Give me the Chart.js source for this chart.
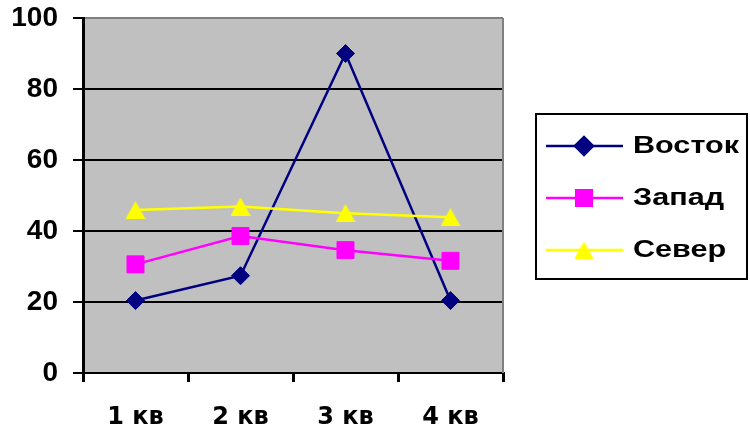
<!DOCTYPE html>
<html>
<head>
<meta charset="utf-8">
<script src="https://cdn.jsdelivr.net/npm/chart.js@4"></script>
<style>
  html, body { margin: 0; padding: 0; background: #fff; overflow: hidden; }
  #wrap { width: 750px; height: 436px; }
</style>
</head>
<body>
<div id="wrap"><canvas id="c" width="750" height="436"></canvas></div>
<script>
// Quarterly figures by region
const quarters = ['1 кв', '2 кв', '3 кв', '4 кв'];
const seriesNames = ['Восток', 'Запад', 'Север'];
const vostok = [20.4, 27.4, 90, 20.4];
const zapad = [30.6, 38.6, 34.6, 31.6];
const sever = [45.9, 46.9, 45, 43.9];
const yTicks = [0, 20, 40, 60, 80, 100];

// Upright triangle marker centred on its bounding box
function triangleMarker(w, h, fill) {
  const c = document.createElement('canvas');
  c.width = w; c.height = h;
  const g = c.getContext('2d');
  g.fillStyle = fill;
  g.beginPath();
  g.moveTo(w / 2, 0);
  g.lineTo(w, h);
  g.lineTo(0, h);
  g.closePath();
  g.fill();
  return c;
}

const triPlot = triangleMarker(20, 18, '#FFFF00');
const triLegend = triangleMarker(19, 17, '#FFFF00');

// Grey plot area with a grey frame on the right
const plotBackground = {
  id: 'plotBackground',
  beforeDraw(chart) {
    const { ctx, chartArea: a } = chart;
    ctx.save();
    ctx.fillStyle = '#C0C0C0';
    ctx.fillRect(a.left, a.top, a.right - a.left, a.bottom - a.top);
    ctx.restore();
  },
  beforeDatasetsDraw(chart) {
    const { ctx, chartArea: a } = chart;
    ctx.save();
    ctx.strokeStyle = '#808080';
    ctx.lineWidth = 2;
    ctx.beginPath();
    ctx.moveTo(a.right, a.top);
    ctx.lineTo(a.right, a.bottom);
    ctx.stroke();
    ctx.restore();
  }
};

// Framed legend on the right: long line with the marker in its middle
const sideLegend = {
  id: 'sideLegend',
  afterDraw(chart) {
    const ctx = chart.ctx;
    const box = { x: 536, y: 114, w: 211, h: 165 };
    ctx.save();
    ctx.fillStyle = '#fff';
    ctx.fillRect(box.x, box.y, box.w, box.h);
    ctx.strokeStyle = '#000';
    ctx.lineWidth = 2;
    ctx.strokeRect(box.x, box.y, box.w, box.h);

    chart.data.datasets.forEach((ds, i) => {
      const y = 146 + i * 52;
      ctx.strokeStyle = ds.borderColor;
      ctx.lineWidth = 2.5;
      ctx.beginPath();
      ctx.moveTo(546, y);
      ctx.lineTo(623, y);
      ctx.stroke();

      ctx.fillStyle = ds.pointBackgroundColor;
      ctx.strokeStyle = ds.pointBorderColor;
      const style = ds.legendStyle;
      Chart.helpers.drawPoint(ctx, {
        pointStyle: style.pointStyle,
        radius: style.radius,
        rotation: 0,
        borderWidth: 1
      }, 584, y);

      ctx.save();
      ctx.translate(633, y + 1);
      ctx.scale(1.33, 1);
      ctx.fillStyle = '#000';
      ctx.font = 'bold 23px "Liberation Sans", Arial, sans-serif';
      ctx.textBaseline = 'middle';
      ctx.textAlign = 'left';
      ctx.fillText(ds.label, 0, 0);
      ctx.restore();
    });
    ctx.restore();
  }
};

new Chart(document.getElementById('c'), {
  type: 'line',
  data: {
    labels: quarters,
    datasets: [
      {
        label: seriesNames[0],
        data: vostok,
        borderColor: '#000080',
        backgroundColor: '#000080',
        pointBackgroundColor: '#000080',
        pointBorderColor: '#000080',
        borderWidth: 2.5,
        pointStyle: 'rectRot',
        pointRadius: 9,
        pointBorderWidth: 1,
        order: 3,
        legendStyle: { pointStyle: 'rectRot', radius: 9 }
      },
      {
        label: seriesNames[1],
        data: zapad,
        borderColor: '#FF00FF',
        backgroundColor: '#FF00FF',
        pointBackgroundColor: '#FF00FF',
        pointBorderColor: '#FF00FF',
        borderWidth: 2.5,
        pointStyle: 'rect',
        pointRadius: 12,
        pointBorderWidth: 1,
        order: 2,
        legendStyle: { pointStyle: 'rect', radius: 11 }
      },
      {
        label: seriesNames[2],
        data: sever,
        borderColor: '#FFFF00',
        backgroundColor: '#FFFF00',
        pointBackgroundColor: '#FFFF00',
        pointBorderColor: '#FFFF00',
        borderWidth: 2.5,
        pointStyle: triPlot,
        pointRadius: 10,
        pointBorderWidth: 0,
        order: 1,
        legendStyle: { pointStyle: triLegend, radius: 9 }
      }
    ]
  },
  options: {
    responsive: false,
    animation: false,
    events: [],
    layout: { padding: { top: 18, right: 247, bottom: 0, left: 0 } },
    plugins: {
      legend: { display: false },
      tooltip: { enabled: false },
      title: { display: false }
    },
    elements: { line: { tension: 0 } },
    scales: {
      x: {
        type: 'category',
        offset: true,
        grid: {
          offset: true,
          drawOnChartArea: false,
          tickLength: 9,
          color: '#000',
          lineWidth: 3
        },
        border: { color: '#000', width: 2 },
        ticks: {
          color: '#000',
          font: { family: '"DejaVu Sans", sans-serif', weight: 'bold', size: 24 },
          padding: 21,
          maxRotation: 0,
          autoSkip: false
        },
        afterFit(scale) {
          scale.height = 63;
          scale.paddingLeft = 0;
          scale.paddingRight = 0;
        }
      },
      y: {
        min: 0,
        max: 100,
        afterBuildTicks(scale) { scale.ticks = yTicks.map(v => ({ value: v })); },
        grid: {
          color: (ctx) => (ctx.tick && ctx.tick.value === 100 ? '#808080' : '#000'),
          tickColor: '#000',
          lineWidth: 2,
          tickLength: 10,
          tickWidth: 2
        },
        border: { color: '#000', width: 3 },
        ticks: {
          color: '#000',
          font: { family: '"Liberation Sans", Arial, sans-serif', weight: 'bold', size: 28, lineHeight: 1 },
          padding: 15
        },
        afterFit(scale) {
          scale.width = 83;
          scale.paddingTop = 0;
          scale.paddingBottom = 0;
        }
      }
    }
  },
  plugins: [plotBackground, sideLegend]
});
</script>
</body>
</html>
